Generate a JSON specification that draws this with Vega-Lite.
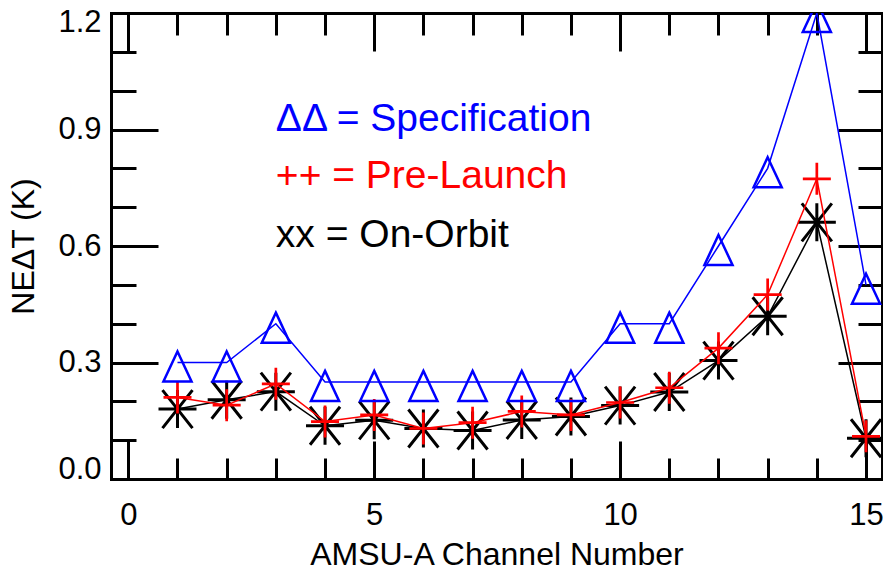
{
  "$schema": "https://vega.github.io/schema/vega-lite/v6.json",
  "width": 771,
  "height": 466,
  "autosize": {"type": "none"},
  "padding": {"left": 111, "top": 13, "right": 1, "bottom": 95},
  "background": "white",
  "config": {
    "view": {"stroke": null},
    "axis": {
      "grid": false,
      "domainColor": "black",
      "tickColor": "black",
      "labelColor": "black",
      "titleColor": "black",
      "domainWidth": 3,
      "tickWidth": 3,
      "domainCap": "square",
      "labelFont": "Liberation Sans",
      "titleFont": "Liberation Sans",
      "titleFontWeight": "normal",
      "labelFontSize": 31,
      "titleFontSize": 32
    }
  },
  "datasets": {
    "nedt": [
      {"channel": 1, "series": "Specification", "nedt": 0.30},
      {"channel": 2, "series": "Specification", "nedt": 0.30},
      {"channel": 3, "series": "Specification", "nedt": 0.40},
      {"channel": 4, "series": "Specification", "nedt": 0.25},
      {"channel": 5, "series": "Specification", "nedt": 0.25},
      {"channel": 6, "series": "Specification", "nedt": 0.25},
      {"channel": 7, "series": "Specification", "nedt": 0.25},
      {"channel": 8, "series": "Specification", "nedt": 0.25},
      {"channel": 9, "series": "Specification", "nedt": 0.25},
      {"channel": 10, "series": "Specification", "nedt": 0.40},
      {"channel": 11, "series": "Specification", "nedt": 0.40},
      {"channel": 12, "series": "Specification", "nedt": 0.60},
      {"channel": 13, "series": "Specification", "nedt": 0.80},
      {"channel": 14, "series": "Specification", "nedt": 1.20},
      {"channel": 15, "series": "Specification", "nedt": 0.50},
      {"channel": 1, "series": "Pre-Launch", "nedt": 0.21},
      {"channel": 2, "series": "Pre-Launch", "nedt": 0.19},
      {"channel": 3, "series": "Pre-Launch", "nedt": 0.245},
      {"channel": 4, "series": "Pre-Launch", "nedt": 0.148},
      {"channel": 5, "series": "Pre-Launch", "nedt": 0.165},
      {"channel": 6, "series": "Pre-Launch", "nedt": 0.13},
      {"channel": 7, "series": "Pre-Launch", "nedt": 0.145},
      {"channel": 8, "series": "Pre-Launch", "nedt": 0.174},
      {"channel": 9, "series": "Pre-Launch", "nedt": 0.165},
      {"channel": 10, "series": "Pre-Launch", "nedt": 0.197},
      {"channel": 11, "series": "Pre-Launch", "nedt": 0.235},
      {"channel": 12, "series": "Pre-Launch", "nedt": 0.337},
      {"channel": 13, "series": "Pre-Launch", "nedt": 0.475},
      {"channel": 14, "series": "Pre-Launch", "nedt": 0.773},
      {"channel": 15, "series": "Pre-Launch", "nedt": 0.11},
      {"channel": 1, "series": "On-Orbit", "nedt": 0.18},
      {"channel": 2, "series": "On-Orbit", "nedt": 0.204},
      {"channel": 3, "series": "On-Orbit", "nedt": 0.225},
      {"channel": 4, "series": "On-Orbit", "nedt": 0.137},
      {"channel": 5, "series": "On-Orbit", "nedt": 0.151},
      {"channel": 6, "series": "On-Orbit", "nedt": 0.13},
      {"channel": 7, "series": "On-Orbit", "nedt": 0.125},
      {"channel": 8, "series": "On-Orbit", "nedt": 0.152},
      {"channel": 9, "series": "On-Orbit", "nedt": 0.161},
      {"channel": 10, "series": "On-Orbit", "nedt": 0.189},
      {"channel": 11, "series": "On-Orbit", "nedt": 0.224},
      {"channel": 12, "series": "On-Orbit", "nedt": 0.305},
      {"channel": 13, "series": "On-Orbit", "nedt": 0.419},
      {"channel": 14, "series": "On-Orbit", "nedt": 0.661},
      {"channel": 15, "series": "On-Orbit", "nedt": 0.105}
    ],
    "notes": [
      {"channel": 3, "nedt": 0.895, "series": "Specification", "label": "ΔΔ = Specification"},
      {"channel": 3, "nedt": 0.75, "series": "Pre-Launch", "label": "++ = Pre-Launch"},
      {"channel": 3, "nedt": 0.598, "series": "On-Orbit", "label": "xx = On-Orbit"}
    ]
  },
  "resolve": {"axis": {"x": "independent", "y": "independent"}},
  "layer": [
    {
      "data": {"name": "nedt"},
      "transform": [{"filter": "datum.series === 'On-Orbit'"}],
      "mark": {"type": "line", "color": "black", "strokeWidth": 1.5, "clip": true},
      "encoding": {
        "x": {"field": "channel", "type": "quantitative",
          "scale": {"domain": [-0.352, 15.325], "nice": false, "zero": false},
          "axis": {"orient": "bottom", "values": [0, 5, 10, 15], "format": "d", "tickSize": -38, "labelPadding": 59.5, "labelFlush": false, "labelOverlap": false, "title": "AMSU-A Channel Number", "titlePadding": 9}},
        "y": {"field": "nedt", "type": "quantitative",
          "scale": {"domain": [0, 1.2], "nice": false, "zero": false},
          "axis": {"orient": "left", "values": [0, 0.3, 0.6, 0.9, 1.2], "format": ".1f", "tickSize": -47, "labelPadding": 57, "labelFlush": true, "labelFlushOffset": 6, "labelOverlap": false, "title": "NEΔT (K)", "titlePadding": 17}}
      }
    },
    {
      "data": {"name": "nedt"},
      "transform": [{"filter": "datum.series === 'On-Orbit'"}],
      "mark": {"type": "point", "shape": "M0,-1L0,1M-1,0L1,0M-0.79,-1L0.79,1M-0.79,1L0.79,-1", "size": 1444, "filled": false, "color": "black", "strokeWidth": 3, "opacity": 1, "clip": true},
      "encoding": {
        "x": {"field": "channel", "type": "quantitative",
          "scale": {"domain": [-0.352, 15.325], "nice": false, "zero": false},
          "axis": {"orient": "bottom", "values": [0, 1, 2, 3, 4, 5, 6, 7, 8, 9, 10, 11, 12, 13, 14, 15], "tickSize": -21, "labels": false, "domain": false, "title": null}},
        "y": {"field": "nedt", "type": "quantitative",
          "scale": {"domain": [0, 1.2], "nice": false, "zero": false},
          "axis": {"orient": "left", "values": [0, 0.1, 0.2, 0.3, 0.4, 0.5, 0.6, 0.7, 0.8, 0.9, 1.0, 1.1, 1.2], "tickSize": -25, "labels": false, "domain": false, "title": null}}
      }
    },
    {
      "data": {"name": "nedt"},
      "transform": [{"filter": "datum.series === 'Pre-Launch'"}],
      "mark": {"type": "line", "color": "#ff0000", "strokeWidth": 1.5, "clip": true},
      "encoding": {
        "x": {"field": "channel", "type": "quantitative",
          "scale": {"domain": [-0.352, 15.325], "nice": false, "zero": false},
          "axis": {"orient": "top", "values": [0, 5, 10, 15], "tickSize": -38, "labels": false, "title": null}},
        "y": {"field": "nedt", "type": "quantitative",
          "scale": {"domain": [0, 1.2], "nice": false, "zero": false},
          "axis": {"orient": "right", "values": [0, 0.3, 0.6, 0.9, 1.2], "tickSize": -44, "labels": false, "title": null}}
      }
    },
    {
      "data": {"name": "nedt"},
      "transform": [{"filter": "datum.series === 'Pre-Launch'"}],
      "mark": {"type": "point", "shape": "M-0.875,0L0.875,0M0,-1L0,1", "size": 1024, "filled": false, "color": "#ff0000", "strokeWidth": 2.7, "opacity": 1, "clip": true},
      "encoding": {
        "x": {"field": "channel", "type": "quantitative",
          "scale": {"domain": [-0.352, 15.325], "nice": false, "zero": false},
          "axis": {"orient": "top", "values": [0, 1, 2, 3, 4, 5, 6, 7, 8, 9, 10, 11, 12, 13, 14, 15], "tickSize": -22, "labels": false, "domain": false, "title": null}},
        "y": {"field": "nedt", "type": "quantitative",
          "scale": {"domain": [0, 1.2], "nice": false, "zero": false},
          "axis": {"orient": "right", "values": [0, 0.1, 0.2, 0.3, 0.4, 0.5, 0.6, 0.7, 0.8, 0.9, 1.0, 1.1, 1.2], "tickSize": -24, "labels": false, "domain": false, "title": null}}
      }
    },
    {
      "data": {"name": "nedt"},
      "transform": [{"filter": "datum.series === 'Specification'"}],
      "mark": {"type": "line", "color": "#0000ff", "strokeWidth": 1.5, "clip": true},
      "encoding": {
        "x": {"field": "channel", "type": "quantitative", "scale": {"domain": [-0.352, 15.325], "nice": false, "zero": false}, "axis": null},
        "y": {"field": "nedt", "type": "quantitative", "scale": {"domain": [0, 1.2], "nice": false, "zero": false}, "axis": null}
      }
    },
    {
      "data": {"name": "nedt"},
      "transform": [{"filter": "datum.series === 'Specification'"}],
      "mark": {"type": "point", "shape": "M0,-0.58L0.74,1L-0.74,1Z", "size": 1444, "filled": false, "color": "#0000ff", "strokeWidth": 2.5, "opacity": 1, "clip": true},
      "encoding": {
        "x": {"field": "channel", "type": "quantitative", "scale": {"domain": [-0.352, 15.325], "nice": false, "zero": false}, "axis": null},
        "y": {"field": "nedt", "type": "quantitative", "scale": {"domain": [0, 1.2], "nice": false, "zero": false}, "axis": null}
      }
    },
    {
      "data": {"name": "notes"},
      "mark": {"type": "text", "align": "left", "baseline": "alphabetic", "font": "Liberation Sans", "fontSize": 39},
      "encoding": {
        "x": {"field": "channel", "type": "quantitative", "scale": {"domain": [-0.352, 15.325], "nice": false, "zero": false}, "axis": null},
        "y": {"field": "nedt", "type": "quantitative", "scale": {"domain": [0, 1.2], "nice": false, "zero": false}, "axis": null},
        "text": {"field": "label"},
        "color": {"field": "series", "type": "nominal", "scale": {"domain": ["Specification", "Pre-Launch", "On-Orbit"], "range": ["#0000ff", "#ff0000", "#000000"]}, "legend": null}
      }
    }
  ]
}
